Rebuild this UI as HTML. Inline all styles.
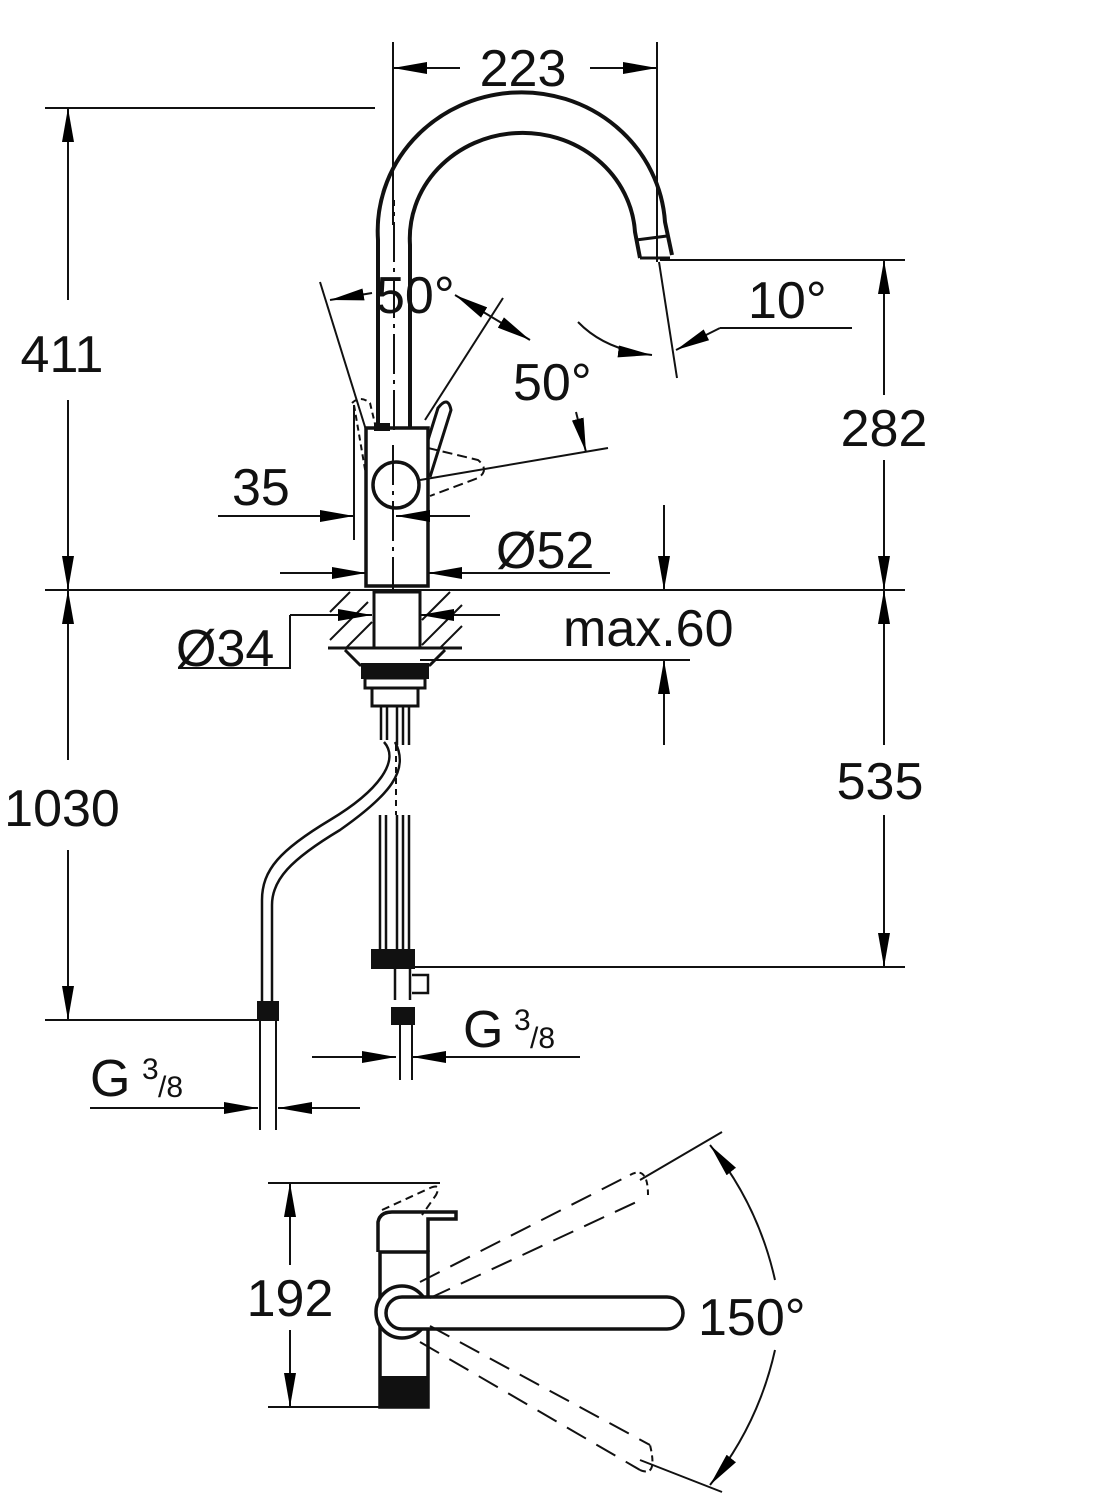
<!DOCTYPE html>
<html><head><meta charset="utf-8"><style>
html,body{margin:0;padding:0;background:#fff;}
svg{display:block}
text{font-family:"Liberation Sans",sans-serif;fill:#111}
</style></head><body>
<svg width="1095" height="1500" viewBox="0 0 1095 1500" xmlns="http://www.w3.org/2000/svg">
<defs>
<marker id="b" viewBox="0 0 30 10" refX="30" refY="5" markerWidth="34" markerHeight="12" markerUnits="userSpaceOnUse" orient="auto-start-reverse" preserveAspectRatio="none"><path d="M0,0L30,5L0,10z" fill="#000"/></marker>
</defs>
<g stroke="#111" fill="none" stroke-width="2">
<line x1="393" y1="42" x2="393" y2="225"/><line x1="657" y1="42" x2="657" y2="262"/>
<line x1="393" y1="68" x2="460" y2="68" marker-start="url(#b)"/><line x1="590" y1="68" x2="657" y2="68" marker-end="url(#b)"/>
<line x1="45" y1="108" x2="375" y2="108"/>
<line x1="68" y1="108" x2="68" y2="300" marker-start="url(#b)"/><line x1="68" y1="400" x2="68" y2="590" marker-end="url(#b)"/>
<line x1="45" y1="590" x2="905" y2="590"/>
<line x1="68" y1="590" x2="68" y2="760" marker-start="url(#b)"/><line x1="68" y1="850" x2="68" y2="1020" marker-end="url(#b)"/>
<line x1="45" y1="1020" x2="265" y2="1020"/>
<line x1="660" y1="260" x2="905" y2="260"/>
<line x1="884" y1="260" x2="884" y2="395" marker-start="url(#b)"/><line x1="884" y1="460" x2="884" y2="590" marker-end="url(#b)"/>
<line x1="884" y1="590" x2="884" y2="745" marker-start="url(#b)"/><line x1="884" y1="815" x2="884" y2="967" marker-end="url(#b)"/>
<line x1="400" y1="967" x2="905" y2="967"/>
<line x1="664" y1="505" x2="664" y2="590" marker-end="url(#b)"/>
<line x1="664" y1="745" x2="664" y2="660" marker-end="url(#b)"/>
<line x1="420" y1="660" x2="690" y2="660"/>
<path d="M378 428 V240 A140 135 0 0 1 665 222 L672 255" stroke-width="4"/>
<path d="M410 428 V245 A112 105 0 0 1 635 232 L640 258" stroke-width="4"/>
<path d="M636 240 L667 236 M640 258 L670 258" stroke-width="3"/>
<line x1="394" y1="430" x2="394" y2="200" stroke-dasharray="40 6 4 6"/>
<line x1="659" y1="262" x2="677" y2="378" stroke-width="2"/>
<path d="M578 322 Q605 350 652 355" marker-end="url(#b)"/>
<line x1="852" y1="328" x2="720" y2="328"/><line x1="720" y1="328" x2="676" y2="350" marker-end="url(#b)"/>
<line x1="320" y1="282" x2="366" y2="430"/>
<line x1="330" y1="300" x2="372" y2="293" marker-start="url(#b)"/>
<line x1="503" y1="298" x2="425" y2="420"/>
<line x1="455" y1="295" x2="530" y2="340" marker-start="url(#b)" marker-end="url(#b)"/>
<line x1="420" y1="480" x2="608" y2="448"/>
<line x1="576" y1="412" x2="586" y2="452" marker-end="url(#b)"/>
<rect x="366" y="428" width="62" height="158" stroke-width="3.5"/>
<rect x="375" y="424" width="14" height="6" fill="#111"/>
<circle cx="396" cy="485" r="23" stroke-width="3.5"/>
<line x1="393" y1="445" x2="393" y2="590" stroke-dasharray="40 6 4 6"/>
<path d="M428 440 L438 408 Q448 395 451 410 L430 477" stroke-width="3"/>
<path d="M352 403 Q360 395 370 403 L376 428 M354 405 L366 475" stroke-dasharray="6 4"/>
<path d="M428 448 L478 460 Q490 470 478 478 L430 496" stroke-dasharray="10 5"/>
<line x1="354" y1="405" x2="354" y2="540"/>
<line x1="218" y1="516" x2="354" y2="516" marker-end="url(#b)"/>
<line x1="470" y1="516" x2="396" y2="516" marker-end="url(#b)"/>
<line x1="280" y1="573" x2="366" y2="573" marker-end="url(#b)"/>
<line x1="610" y1="573" x2="428" y2="573" marker-end="url(#b)"/>
<rect x="374" y="592" width="46" height="56" stroke-width="3"/>
<line x1="328" y1="648" x2="462" y2="648" stroke-width="3"/>
<path d="M330 612 L350 592 M330 640 L368 602 M346 648 L372 622 M422 620 L450 592 M422 645 L462 605 M440 648 L462 626"/>
<line x1="290" y1="615" x2="372" y2="615" marker-end="url(#b)"/>
<line x1="500" y1="615" x2="420" y2="615" marker-end="url(#b)"/>
<path d="M290 615 V668 H178"/>
<path d="M345 650 L360 665 H430 L445 650" stroke-width="3"/>
<rect x="362" y="664" width="66" height="14" fill="#111"/>
<rect x="365" y="678" width="60" height="10" stroke-width="3"/>
<rect x="372" y="688" width="46" height="18" stroke-width="3"/>
<path d="M381 706 V740 M387 706 V740 M397 706 V745 M403 706 V745 M409 706 V745" stroke-width="2.5"/>
<path d="M384 742 C400 760 380 790 330 820 C280 850 262 870 262 900 V1012 M395 742 C410 770 390 795 340 830 C290 860 272 880 272 905 V1012" stroke-width="2.5"/>
<path d="M380 815 V950 M386 815 V950 M397 815 V950 M403 815 V950 M409 815 V950" stroke-width="2.5"/>
<line x1="396" y1="745" x2="396" y2="815" stroke-dasharray="6 5"/>
<rect x="372" y="950" width="42" height="18" fill="#111"/>
<rect x="258" y="1002" width="20" height="18" fill="#111"/>
<path d="M395 968 V1000 M410 968 V1000 M412 975 h16 v18 h-16" stroke-width="2.5"/>
<rect x="392" y="1008" width="22" height="16" fill="#111"/>
<path d="M400 1024 V1080 M412 1024 V1080 M260 1020 V1130 M276 1020 V1130" stroke-width="2"/>
<line x1="312" y1="1057" x2="396" y2="1057" marker-end="url(#b)"/>
<line x1="580" y1="1057" x2="412" y2="1057" marker-end="url(#b)"/>
<line x1="90" y1="1108" x2="258" y2="1108" marker-end="url(#b)"/>
<line x1="360" y1="1108" x2="278" y2="1108" marker-end="url(#b)"/>
<line x1="268" y1="1183" x2="440" y2="1183"/><line x1="268" y1="1407" x2="380" y2="1407"/>
<line x1="290" y1="1183" x2="290" y2="1265" marker-start="url(#b)"/><line x1="290" y1="1330" x2="290" y2="1407" marker-end="url(#b)"/>
<rect x="380" y="1252" width="48" height="155" stroke-width="3.5"/>
<rect x="380" y="1377" width="48" height="30" fill="#111"/>
<path d="M378 1252 V1222 Q380 1212 392 1212 H456 L456 1219 H428 V1252" stroke-width="3.5"/>
<path d="M382 1210 L430 1188 Q442 1183 436 1195 L422 1215" stroke-dasharray="8 5"/>
<circle cx="402" cy="1312" r="26" fill="#fff" stroke-width="3.5"/>
<path d="M402 1297 H667 A16 16 0 0 1 667 1329 H402 A16 16 0 0 1 402 1297 Z" fill="#fff" stroke-width="3.5"/>
<path d="M420 1282 L630 1175 M430 1298 L645 1198 M420 1342 L640 1470 M430 1326 L650 1445" stroke-dasharray="22 12"/>
<path d="M630 1175 Q648 1165 648 1195 M640 1470 Q658 1478 650 1445" stroke-dasharray="6 4"/>
<line x1="640" y1="1180" x2="722" y2="1132"/><line x1="640" y1="1460" x2="722" y2="1492"/>
<path d="M710 1145 A330 330 0 0 1 775 1280" marker-start="url(#b)"/>
<path d="M775 1350 A330 330 0 0 1 710 1485" marker-end="url(#b)"/>
</g>
<g font-size="52">
<text x="523" y="86" text-anchor="middle">223</text>
<text x="62" y="372" text-anchor="middle">411</text>
<text x="62" y="826" text-anchor="middle">1030</text>
<text x="884" y="446" text-anchor="middle">282</text>
<text x="880" y="799" text-anchor="middle">535</text>
<text x="376" y="313">50°</text>
<text x="513" y="400">50°</text>
<text x="748" y="318">10°</text>
<text x="232" y="505">35</text>
<text x="496" y="568">Ø52</text>
<text x="176" y="666">Ø34</text>
<text x="563" y="646">max.60</text>
<text x="463" y="1047">G</text><text x="514" y="1030" font-size="30">3</text><text x="530" y="1048" font-size="30">/8</text>
<text x="90" y="1096">G</text><text x="142" y="1079" font-size="30">3</text><text x="158" y="1097" font-size="30">/8</text>
<text x="290" y="1316" text-anchor="middle">192</text>
<text x="698" y="1335">150°</text>
</g>
</svg>
</body></html>
